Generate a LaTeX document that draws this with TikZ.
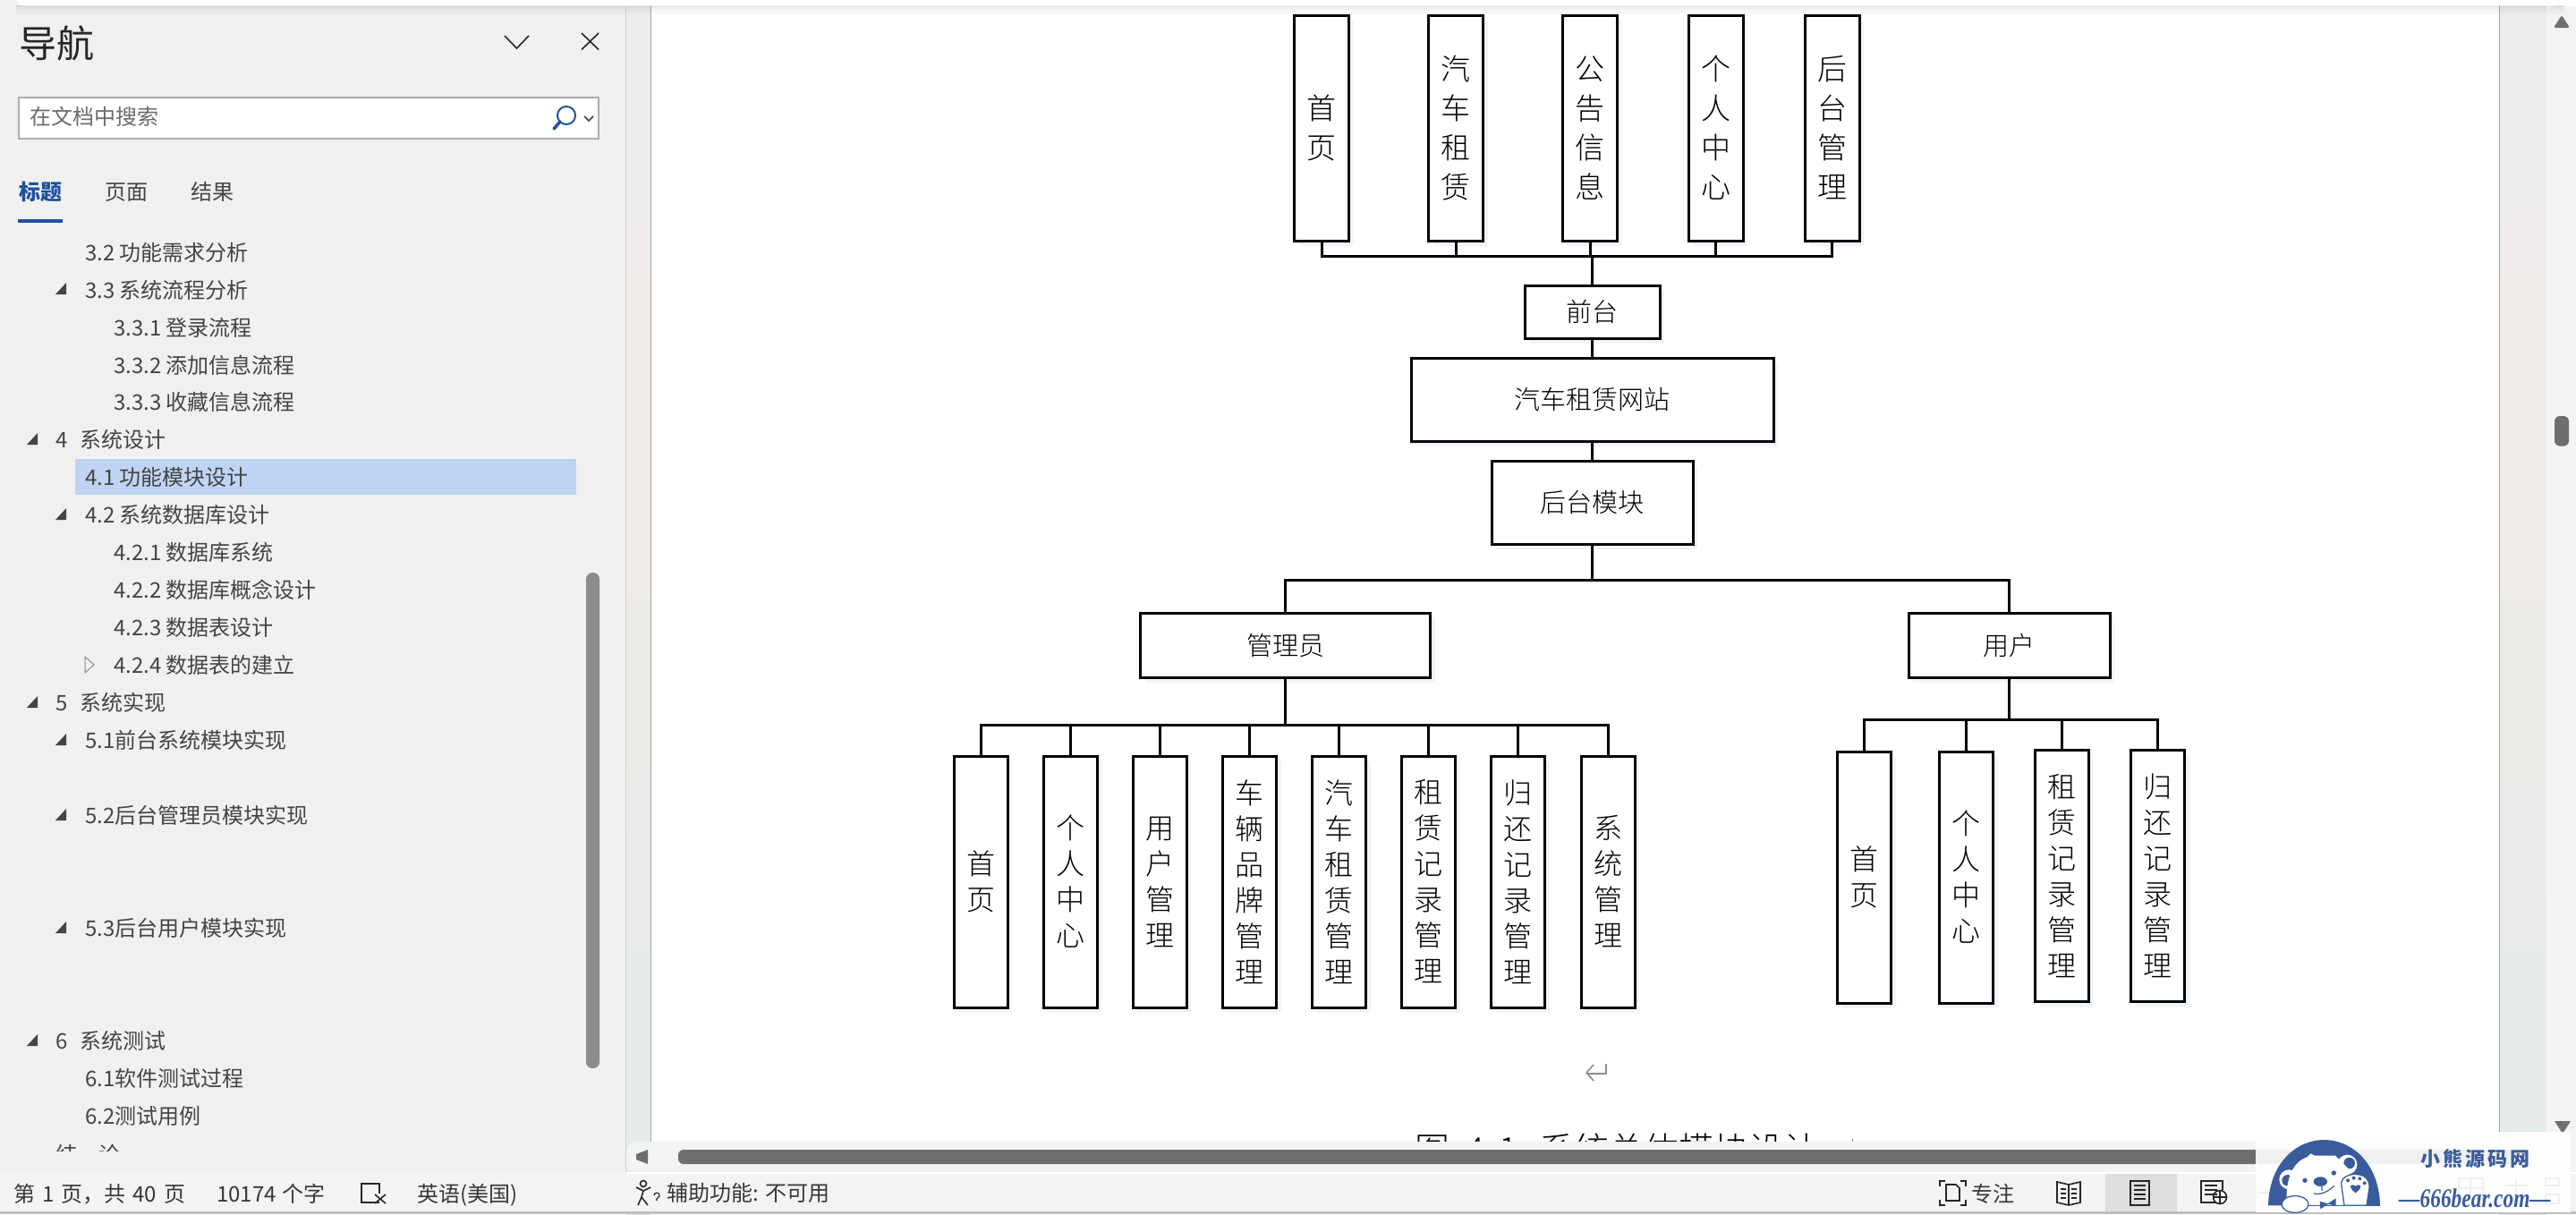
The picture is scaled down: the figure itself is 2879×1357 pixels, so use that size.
\documentclass[tikz,border=0pt]{standalone}
\usepackage{fontspec}
\usetikzlibrary{shadows}
\setmainfont{Noto Sans CJK SC}
\newfontfamily\wmserif{Liberation Serif}
\newfontfamily\boxfont{Noto Sans CJK SC Light}
\definecolor{panelbg}{HTML}{F0F0F0}
\definecolor{barbg}{HTML}{F3F3F3}
\definecolor{toctext}{HTML}{444444}
\definecolor{hilite}{HTML}{BFD3F2}
\definecolor{tabblue}{HTML}{2150A0}
\definecolor{thumbgrey}{HTML}{6E6E6E}
\definecolor{panelthumb}{HTML}{8C8C8C}
\definecolor{wmblue}{HTML}{3A5C9E}
\definecolor{shadowblue}{HTML}{F1F4FB}
\definecolor{stripa}{HTML}{ECECEC}
\definecolor{stripb}{HTML}{F0EBE8}
\definecolor{stripc}{HTML}{E3EBE8}
\tikzset{
  diagbox/.style={draw=black,line width=3pt,fill=white,inner sep=0pt,align=center,text=black,
    drop shadow={shadow xshift=5pt,shadow yshift=-6pt,fill=shadowblue,opacity=1}},
  hbox/.style={diagbox,font=\boxfont\fontsize{29}{34}\selectfont},
  vboxa/.style={diagbox,font=\boxfont\fontsize{33}{44}\selectfont,minimum width=61pt,minimum height=252pt},
  vboxb/.style={diagbox,font=\boxfont\fontsize{32}{40}\selectfont,minimum width=60pt,minimum height=281pt},
  wire/.style={draw=black,line width=3pt},
  toc/.style={anchor=base west,inner sep=0pt,text=toctext,font=\fontsize{24}{28}\selectfont},
  statustext/.style={anchor=base west,inner sep=0pt,text=black!78,font=\fontsize{24}{28}\selectfont},
  tabtext/.style={anchor=base west,inner sep=0pt,text=toctext,font=\fontsize{24}{28}\selectfont},
  tri/.style={fill=toctext,draw=none},
  icon/.style={draw=black!85,line width=1.6pt,fill=none},
}
\newcommand{\tocitem}[4]{\node[toc] (#1) at ([yshift=-9pt]#2,#3) {#4};}
\newcommand{\opentri}[2]{\fill[tri] ({#1+12},{#2-7}) -- ({#1+12},{#2+6}) -- ({#1},{#2+6}) -- cycle;}
\begin{document}
\begin{tikzpicture}[x=1pt,y=-1pt]
\useasboundingbox (0,0) rectangle (2879,1357);
% ----- backgrounds
\fill[white] (0,0) rectangle (2879,1357);
\fill[panelbg] (0,0) rectangle (699,1357);
\fill[top color=stripa,bottom color=stripb] (699,0) rectangle (727,500);
\fill[top color=stripb,bottom color=stripc] (699,500) rectangle (727,1357);
\fill[top color=stripa,bottom color=stripb] (2793,0) rectangle (2846,500);
\fill[top color=stripb,bottom color=stripc] (2793,500) rectangle (2846,1357);
\draw[black!18,line width=1pt] (699,0) -- (699,1310);
\draw[black!35,line width=1pt] (727,0) -- (727,1276);
\draw[black!35,line width=1pt] (2793,0) -- (2793,1276);
% right scrollbar
\fill[barbg,rounded corners=10pt] (2846,7) rectangle (2895,1357);
\fill[thumbgrey,rounded corners=1.5pt] (2854,31) -- (2863,17) -- (2872,31) -- cycle;
\fill[thumbgrey,rounded corners=6pt] (2855,465) rectangle (2871,498.6);
\fill[thumbgrey] (2855,1253) -- (2873,1253) -- (2864,1267) -- cycle;
% ----- top bar shadow and top bar
\fill[black,opacity=.10] (18,6) rectangle (2866,8);
\fill[black,opacity=.06] (18,8) rectangle (2866,11);
\fill[black,opacity=.03] (18,11) rectangle (2866,15);
\fill[white,rounded corners=9pt] (18,-20) rectangle (2862,6.5);
% ----- diagram: front end
\node[vboxa] (t1) at (1477,143) {首\\页};
\node[vboxa] (t2) at (1627,143) {汽\\车\\租\\赁};
\node[vboxa] (t3) at (1777,143) {公\\告\\信\\息};
\node[vboxa] (t4) at (1917.5,143) {个\\人\\中\\心};
\node[vboxa] (t5) at (2047.5,143) {后\\台\\管\\理};
\node[hbox,minimum width=151pt,minimum height=59pt] (qt) at (1779.5,348.5) {前台};
\node[hbox,minimum width=405pt,minimum height=93pt] (site) at (1779.5,446.5) {汽车租赁网站};
\node[hbox,minimum width=225pt,minimum height=93pt] (ht) at (1779.5,561.5) {后台模块};
\coordinate (busT) at (1779.5,286.5);
\foreach \n in {t1,t2,t3,t4,t5} \draw[wire] (\n.south) |- (busT);
\draw[wire] (busT) -- (qt.north);
\draw[wire] (qt.south) -- (site.north);
\draw[wire] (site.south) -- (ht.north);
% ----- diagram: back end
\node[hbox,minimum width=324pt,minimum height=72pt] (adm) at (1436.5,721) {管理员};
\node[hbox,minimum width=225pt,minimum height=72pt] (usr) at (2245.5,721) {用户};
\coordinate (busM) at (1779.5,648);
\draw[wire] (ht.south) -- (busM);
\draw[wire] (adm.north) |- (busM);
\draw[wire] (usr.north) |- (busM);
\node[vboxb] (a1) at (1096,985.5) {首\\页};
\node[vboxb] (a2) at (1196,985.5) {个\\人\\中\\心};
\node[vboxb] (a3) at (1296,985.5) {用\\户\\管\\理};
\node[vboxb] (a4) at (1396.5,985.5) {车\\辆\\品\\牌\\管\\理};
\node[vboxb] (a5) at (1496.5,985.5) {汽\\车\\租\\赁\\管\\理};
\node[vboxb] (a6) at (1596.5,985.5) {租\\赁\\记\\录\\管\\理};
\node[vboxb] (a7) at (1696.5,985.5) {归\\还\\记\\录\\管\\理};
\node[vboxb] (a8) at (1797,985.5) {系\\统\\管\\理};
\coordinate (busA) at (1436.5,810);
\draw[wire] (adm.south) -- (busA);
\foreach \n in {a1,a2,a3,a4,a5,a6,a7,a8} \draw[wire] (\n.north) |- (busA);
\node[vboxb] (u1) at (2083.5,980.5) {首\\页};
\node[vboxb] (u2) at (2197.5,980.5) {个\\人\\中\\心};
\node[vboxb] (u3) at (2304.5,979) {租\\赁\\记\\录\\管\\理};
\node[vboxb] (u4) at (2411.5,979) {归\\还\\记\\录\\管\\理};
\coordinate (busU) at (2245.5,804);
\draw[wire] (usr.south) -- (busU);
\foreach \n in {u1,u2,u3,u4} \draw[wire] (\n.north) |- (busU);
% return mark
\draw[black!45,line width=1.6pt,line join=round] (1795,1189) -- (1795,1200) -- (1774,1200);
\draw[black!45,line width=1.6pt,line join=round] (1781,1190) -- (1773,1199) -- (1781,1208);
% caption, cut by the scrollbar
\begin{scope}
\clip (1500,1250) rectangle (2200,1276);
\node[anchor=base west,inner sep=0pt,text=black,font=\boxfont\fontsize{39}{44}\selectfont] (capa) at (1581,1299) {图};
\node[anchor=base west,inner sep=0pt,text=black,font=\boxfont\fontsize{39}{44}\selectfont] (capb) at (1638,1299) {4\hspace{2pt}-\hspace{1pt}1};
\node[anchor=base west,inner sep=0pt,text=black,font=\boxfont\fontsize{39}{44}\selectfont] (capc) at (1720,1299) {系统总体模块设计};
\end{scope}
\draw[black!50,line width=1pt] (2070,1273) -- (2070,1276);
% ----- horizontal scrollbar and status bar
\fill[barbg,rounded corners=10pt] (700,1276) rectangle (2879,1310);
\fill[barbg] (2800,1276) rectangle (2846,1310);
\fill[thumbgrey] (724,1285) -- (724,1301) -- (711,1296) -- (711,1290) -- cycle;
\fill[thumbgrey,rounded corners=6pt] (758,1285) rectangle (2826,1301);
\fill[barbg] (0,1312) rectangle (2879,1354);
\fill[panelbg] (0,1310) rectangle (700,1312);
\fill[white] (700,1310) rectangle (2879,1312);
\fill[black!25] (0,1354) rectangle (2879,1357);
\fill[black!13] (2353,1312) rectangle (2433,1354);
\node[statustext] (st1) at (15,1343) {第\hspace{8pt}1\hspace{8pt}页，共\hspace{8pt}40\hspace{8pt}页};
\node[statustext] (st2) at (242,1343) {10174\hspace{7pt}个字};
\node[statustext] (st3) at (466,1343) {英语(美国)};
\node[statustext] (st4) at (745,1342) {辅助功能: 不可用};
\node[statustext] (st5) at (2203,1343) {专注};
% spell icon
\draw[icon] (424,1344) -- (404,1344) -- (404,1323) -- (424,1323) -- (424,1334);
\draw[icon] (419,1335) -- (431,1345) (431,1335) -- (419,1345);
% accessibility icon
\draw[icon] (719,1323) circle (3.5);
\draw[icon] (711,1327) -- (719,1331) -- (727,1327) (719,1331) -- (717,1338) -- (713,1347) (717,1338) -- (724,1347);
\draw[icon,line width=1.2pt] (731,1336) .. controls (731,1332) and (738,1332) .. (737,1337) -- (734,1340) -- (734,1342);
% focus icon
\draw[icon] (2168,1326) -- (2168,1320) -- (2174,1320) (2191,1320) -- (2197,1320) -- (2197,1326);
\draw[icon] (2168,1341) -- (2168,1347) -- (2174,1347) (2191,1347) -- (2197,1347) -- (2197,1341);
\draw[icon] (2175,1342) -- (2175,1324) -- (2186,1324) -- (2190,1328) -- (2190,1342) -- cycle;
% read mode icon
\draw[icon] (2299,1321) -- (2312,1324) -- (2325,1321) -- (2325,1344) -- (2312,1347) -- (2299,1344) -- cycle (2312,1324) -- (2312,1347);
\foreach \yy in {1329,1334,1339} \draw[black!85,line width=1.4pt] (2303,\yy) -- (2309,\yy) (2315,\yy) -- (2321,\yy);
% print layout icon
\draw[icon] (2381,1320) rectangle (2402,1347);
\foreach \yy in {1325,1330,1335,1340} \draw[black!85,line width=1.6pt] (2385,\yy) -- (2398,\yy);
% web icon
\draw[icon] (2477,1344) -- (2460,1344) -- (2460,1320) -- (2484,1320) -- (2484,1330);
\foreach \yy in {1325,1330,1335} \draw[black!85,line width=1.4pt] (2464,\yy) -- (2478,\yy);
\draw[icon] (2481,1338) circle (7.5);
\draw[black!85,line width=1.2pt] (2473.5,1338) -- (2488.5,1338) (2481,1330.5) -- (2481,1345.5);
% zoom controls behind the watermark
\draw[black!70,line width=1.5pt] (2525,1333) -- (2650,1333) (2600,1322) -- (2600,1344);
\draw[black!60,line width=2pt] (2748,1317) rectangle (2775,1340) (2761,1317) -- (2761,1340) (2748,1328) -- (2775,1328);
\draw[black!60,line width=2pt] (2800,1325) -- (2825,1325) (2812,1317) -- (2812,1343);
\draw[black!60,line width=2pt] (2845,1317) rectangle (2860,1325) (2845,1335) rectangle (2860,1345);
\fill[thumbgrey,rounded corners=6pt] (2800,1285) rectangle (2826,1301);
% ----- navigation pane
\node[anchor=base west,inner sep=0pt,text=black!85,font=\fontsize{42}{48}\selectfont] (navtitle) at (21,64) {导航};
\draw[black!85,line width=1.6pt] (564,40) -- (577.5,54) -- (591,40);
\draw[black!85,line width=1.6pt] (650,37) -- (669,55.5) (669,37) -- (650,55.5);
\draw[draw=black!32,fill=white,line width=2pt] (21,109) rectangle (669,155);
\node[anchor=base west,inner sep=0pt,text=black!58,font=\fontsize{24}{28}\selectfont] (searchtxt) at (33,139) {在文档中搜索};
\draw[tabblue,line width=2pt] (633,129) circle (10);
\draw[tabblue,line width=3.5pt,line cap=round] (626,136) -- (619,144);
\draw[black!75,line width=1.5pt] (653,130) -- (658,135) -- (663,130);
\node[tabtext,text=tabblue,font=\fontsize{24}{28}\bfseries\selectfont] (tab1) at (21,223) {标题};
\node[tabtext] (tab2) at (117,223) {页面};
\node[tabtext] (tab3) at (213,223) {结果};
\fill[tabblue] (20,245) rectangle (70,249);
\fill[hilite] (84,513) rectangle (644,553);
\tocitem{h32}{95}{282}{3.2 功能需求分析}
\tocitem{h33}{95}{324}{3.3 系统流程分析}
\tocitem{h331}{127}{366}{3.3.1 登录流程}
\tocitem{h332}{127}{408}{3.3.2 添加信息流程}
\tocitem{h333}{127}{449}{3.3.3 收藏信息流程}
\tocitem{h4}{62}{491}{4\hspace{14pt}系统设计}
\tocitem{h41}{95}{533}{4.1 功能模块设计}
\tocitem{h42}{95}{575}{4.2 系统数据库设计}
\tocitem{h421}{127}{617}{4.2.1 数据库系统}
\tocitem{h422}{127}{659}{4.2.2 数据库概念设计}
\tocitem{h423}{127}{701}{4.2.3 数据表设计}
\tocitem{h424}{127}{743}{4.2.4 数据表的建立}
\tocitem{h5}{62}{785}{5\hspace{14pt}系统实现}
\tocitem{h51}{95}{827}{5.1前台系统模块实现}
\tocitem{h52}{95}{911}{5.2后台管理员模块实现}
\tocitem{h53}{95}{1037}{5.3后台用户模块实现}
\tocitem{h6}{62}{1163}{6\hspace{14pt}系统测试}
\tocitem{h61}{95}{1205}{6.1软件测试过程}
\tocitem{h62}{95}{1247}{6.2测试用例}
\begin{scope}
\clip (0,1270) rectangle (699,1286.5);
\node[toc] (hend) at (62,1299) {结\hspace{24pt}论};
\end{scope}
\opentri{62}{323}
\opentri{30}{491}
\opentri{62}{575}
\opentri{30}{785}
\opentri{62}{827}
\opentri{62}{911}
\opentri{62}{1037}
\opentri{30}{1163}
\draw[black!45,line width=1pt] (95,734) -- (105,743) -- (95,752) -- cycle;
\fill[panelthumb,rounded corners=7pt] (655,640) rectangle (670,1194);
% ----- watermark
\fill[white,opacity=.9] (2521,1265) rectangle (2873,1355);
\begin{scope}[shift={(2510,1260)},x=.3333pt,y=-.3333pt]
\fill[wmblue] (75,262) .. controls (78,120) and (170,42) .. (262,42) .. controls (355,42) and (447,120) .. (450,262) -- cycle;
\fill[white] (145,175) circle (33);
\fill[white] (340,125) circle (33);
\fill[wmblue] (140,178) circle (19);
\fill[wmblue] (347,120) circle (19);
\fill[white] (205,100) -- (218,88) -- (232,95) -- (300,95) -- (345,140) -- (362,262) -- (138,262) .. controls (130,170) and (160,115) .. (205,100) -- cycle;
\fill[wmblue] (250,182) ellipse (23 and 16);
\fill[wmblue] (198,178) circle (8);
\fill[wmblue] (295,153) circle (8);
\draw[wmblue,line width=1.2pt] (255,197) -- (255,213) (228,222) .. controls (255,228) and (280,212) .. (296,196);
\draw[wmblue,line width=1.3pt,fill=white] (330,262) -- (320,190) .. controls (320,165) and (350,155) .. (375,158) .. controls (405,160) and (420,185) .. (412,215) -- (405,262) -- cycle;
\fill[wmblue] (342,178) circle (6) (362,170) circle (6) (382,172) circle (6) (398,187) circle (6);
\fill[wmblue] (368,220) .. controls (340,200) and (352,185) .. (368,197) .. controls (384,185) and (396,200) .. (368,220) -- cycle;
\draw[wmblue,line width=1.2pt] (165,262) -- (450,262);
\draw[wmblue,line width=1.3pt,fill=white] (165,258) ellipse (45 and 28);
\fill[wmblue] (248,248) -- (275,256) -- (302,238) -- (302,262) -- (275,258) -- (250,274) -- cycle;
\end{scope}
\node[text=wmblue,inner sep=0pt,font=\fontsize{22}{26}\bfseries\selectfont] (wm1) at (2766,1295) {小\hspace{3pt}熊\hspace{3pt}源\hspace{3pt}码\hspace{3pt}网};
\node[text=wmblue,inner sep=0pt,transform shape,xscale=.78,font=\wmserif\fontsize{30}{34}\bfseries\itshape\selectfont] (wm2) at (2766,1339) {—666bear.com—};
\end{tikzpicture}
\end{document}
